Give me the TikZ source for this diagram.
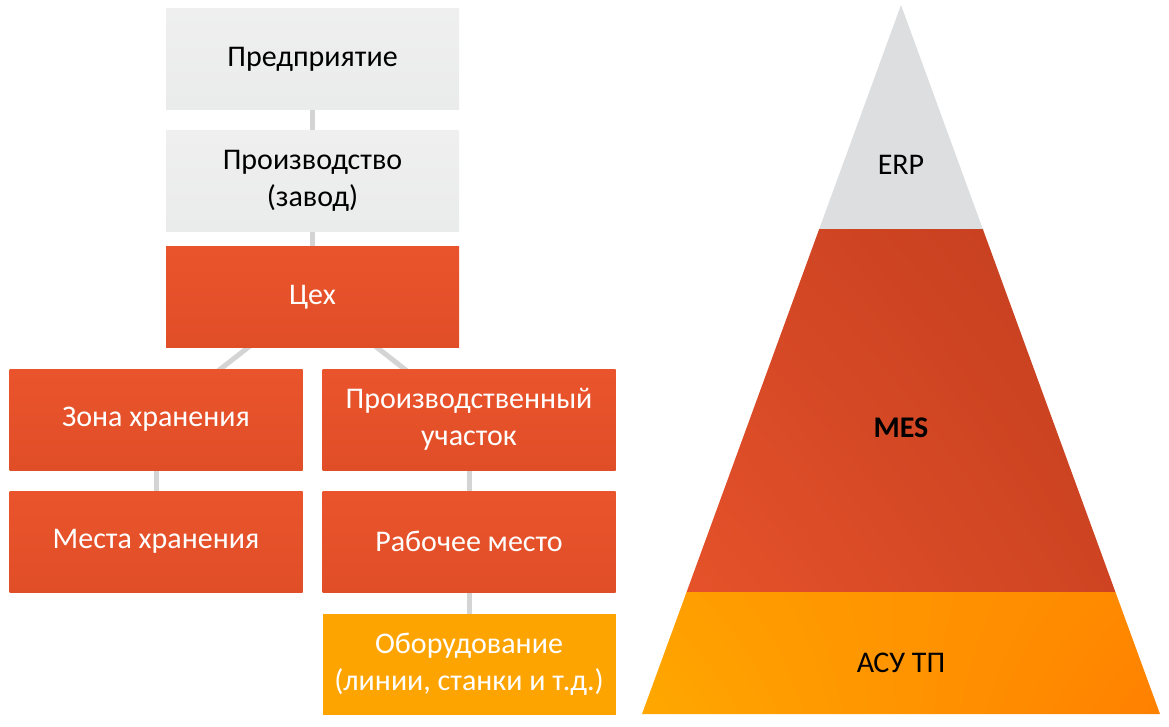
\documentclass[tikz,border=0pt]{standalone}
\usepackage{fontspec}
\setmainfont{Carlito}
\usetikzlibrary{backgrounds,shadings}
\definecolor{boxgrayT}{HTML}{EFEFEF}
\definecolor{boxgrayB}{HTML}{EAEBEB}
\definecolor{boxredT}{HTML}{EA542C}
\definecolor{boxredB}{HTML}{E04E27}
\definecolor{boxorange}{HTML}{FDA400}
\definecolor{connc}{HTML}{D4D4D4}
\definecolor{erpgray}{HTML}{DDDEDF}
\definecolor{mesUL}{RGB}{214,72,38}
\definecolor{mesUR}{RGB}{194,62,30}
\definecolor{mesLL}{RGB}{229,82,42}
\definecolor{mesLR}{RGB}{206,68,34}
\definecolor{asuUL}{RGB}{255,160,0}
\definecolor{asuUR}{RGB}{255,136,0}
\definecolor{asuLL}{RGB}{255,168,0}
\definecolor{asuLR}{RGB}{255,128,0}
\tikzset{
  box/.style={rectangle, inner sep=0pt, minimum width=293pt, minimum height=101pt, align=center, font=\fontsize{30}{37}\selectfont},
  graybox/.style={box, shade, top color=boxgrayT, bottom color=boxgrayB, text=black},
  redbox/.style={box, shade, top color=boxredT, bottom color=boxredB, text=white},
  orangebox/.style={box, fill=boxorange, text=white},
  conn/.style={draw=connc, line width=5pt},
  pyrtext/.style={font=\fontsize{30}{37}\selectfont, text=black, inner sep=0pt}
}
\begin{document}
\begin{tikzpicture}[x=1pt,y=-1pt]
\useasboundingbox (0,0) rectangle (1169,726);
% hierarchy boxes
\node[graybox] (pred) at (312.5,59) {Предприятие};
\node[graybox] (proizv) at (312.5,180.5) {Производство\\(завод)};
\node[redbox] (cekh) at (312.5,297) {Цех};
\node[redbox] (zona) at (156,419.5) {Зона хранения};
\node[redbox] (uch) at (469,419.5) {Производственный\\участок};
\node[redbox] (mesta) at (156,541.5) {Места хранения};
\node[redbox] (rab) at (469,541.5) {Рабочее место};
\node[orangebox] (obor) at (469,664) {Оборудование\\(линии, станки и т.д.)};
\begin{pgfonlayer}{background}
\draw[conn] (pred.center) -- (proizv.center);
\draw[conn] (proizv.center) -- (cekh.center);
\draw[conn] (cekh.center) -- (zona.center);
\draw[conn] (cekh.center) -- (uch.center);
\draw[conn] (zona.center) -- (mesta.center);
\draw[conn] (uch.center) -- (rab.center);
\draw[conn] (rab.center) -- (obor.center);
\end{pgfonlayer}
% pyramid
\fill[erpgray] (901,5) -- (982.8,229) -- (819.2,229) -- cycle;
\shade[upper left=mesUL, upper right=mesUR, lower left=mesLL, lower right=mesLR]
  (819.2,229) -- (982.8,229) -- (1115.4,592) -- (686.6,592) -- cycle;
\shade[upper left=asuUL, upper right=asuUR, lower left=asuLL, lower right=asuLR]
  (686.6,592) -- (1115.4,592) -- (1160,714) -- (642,714) -- cycle;
\node[pyrtext] (erp) at (901,165) {ERP};
\node[pyrtext] (mes) at (901,428) {\bfseries MES};
\node[pyrtext] (asu) at (901,663) {АСУ ТП};
\end{tikzpicture}
\end{document}
